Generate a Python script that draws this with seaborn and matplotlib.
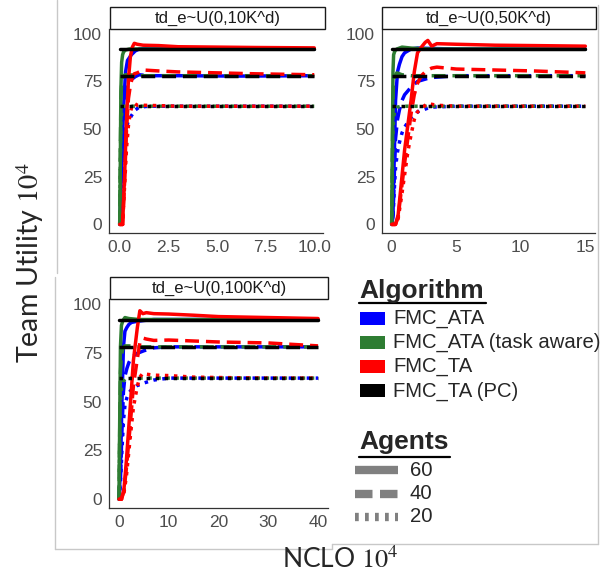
import numpy as np
import pandas as pd
import matplotlib
matplotlib.use("Agg")
import matplotlib.pyplot as plt
import seaborn as sns
from matplotlib.patches import Rectangle
from matplotlib.lines import Line2D

# legend / facet labels
algorithms = ["FMC_ATA", "FMC_ATA (task aware)", "FMC_TA", "FMC_TA (PC)"]
agents = ["60", "40", "20"]
panel_titles = ["td_e~U(0,10K^d)", "td_e~U(0,50K^d)", "td_e~U(0,100K^d)"]
y_ticks = [0, 25, 50, 75, 100]
x_ticks_p1 = [0, 2.5, 5, 7.5, 10]
x_ticks_p2 = [0, 5, 10, 15]
x_ticks_p3 = [0, 10, 20, 30, 40]

# ---- panel 1 : td_e~U(0,10K^d) ----
p1_ata_x = [0, 0.1, 0.2, 0.3, 0.4, 0.6, 0.8, 1.0, 1.5, 3, 6, 10]
p1_ata_60 = [0, 30, 62, 80, 86, 89, 91, 92, 92.5, 92.2, 92, 92]
p1_ata_40 = [0, 25, 50, 66, 72, 76, 77.5, 78.5, 78, 78, 77.8, 78]
p1_ata_20 = [0, 18, 36, 47, 53, 57, 60, 61.5, 62, 62, 62, 62]

p1_aware_x = [0, 0.03, 0.06, 0.1, 0.15, 0.2, 0.3, 0.5, 1, 3, 10]
p1_aware_60 = [0, 30, 70, 85, 89, 90.5, 91.5, 92, 92, 92, 92]
p1_aware_40 = [0, 35, 65, 74, 77, 78, 78.5, 78.5, 78, 78, 78]
p1_aware_20 = [0, 30, 52, 58, 61, 62, 62, 62, 62, 62, 62]

p1_ta_x = [0, 0.15, 0.25, 0.35, 0.45, 0.55, 0.65, 0.75, 0.9, 1.2, 2, 3, 5, 7, 10]
p1_ta_60 = [0, 0, 25, 55, 76, 88, 93, 95, 94.5, 94, 93.8, 93.2, 93, 92.8, 92.6]
p1_ta_40 = [0, 0, 22, 50, 66, 73, 77, 79, 79.5, 81, 80.5, 80, 79.5, 79, 78.5]
p1_ta_20 = [0, 0, 20, 40, 52, 59, 62.5, 63.5, 62.5, 62.5, 62.3, 62, 62, 62, 62]

p1_pc_x = [0, 10]
p1_pc_60 = [92, 92]
p1_pc_40 = [78, 78]
p1_pc_20 = [62, 62]

# ---- panel 2 : td_e~U(0,50K^d) ----
p2_ata_x = [0, 0.1, 0.2, 0.3, 0.45, 0.6, 0.8, 1.0, 1.5, 2.0, 3.0, 5, 10, 15]
p2_ata_60 = [0, 5, 35, 65, 80, 84, 88, 90, 92, 92.5, 92.3, 92, 92, 92]
p2_ata_40 = [0, 4, 25, 45, 55, 60, 65, 68, 72, 75, 77, 78, 78, 78]
p2_ata_20 = [0, 3, 18, 30, 38, 43, 48, 51, 56, 59, 61.5, 62, 62, 62]

p2_aware_x = [0, 0.05, 0.1, 0.15, 0.25, 0.4, 0.8, 1.5, 3, 8, 15]
p2_aware_60 = [0, 40, 80, 89, 91, 92, 93, 92.5, 92, 92, 92]
p2_aware_40 = [0, 35, 65, 75, 78, 79.5, 78.5, 78, 78, 78, 78]
p2_aware_20 = [0, 25, 48, 56, 60, 61.5, 62, 62, 62, 62, 62]

p2_ta_x = [0, 0.3, 0.5, 0.75, 1.0, 1.25, 1.5, 1.75, 2.0, 2.3, 2.6, 2.8, 3.1, 3.5, 5, 8, 11, 15]
p2_ta_60 = [0, 0, 5, 22, 39, 52, 65, 80, 90, 93, 95.5, 96.5, 93.5, 94.8, 94.5, 94, 93.8, 93.5]
p2_ta_40 = [0, 0, 4, 18, 32, 45, 58, 68, 74, 78, 80, 81, 82, 82.5, 81.5, 81, 80.5, 79.5]
p2_ta_20 = [0, 0, 3, 14, 26, 38, 47, 55, 59, 61, 62.5, 63.5, 63, 62.5, 62, 62, 62, 62]

p2_pc_x = [0, 15]
p2_pc_60 = [92, 92]
p2_pc_40 = [78, 78]
p2_pc_20 = [62, 62]

# ---- panel 3 : td_e~U(0,100K^d) ----
p3_ata_x = [0, 0.3, 0.6, 0.9, 1.2, 1.6, 2.0, 2.5, 3.5, 5, 7, 10, 20, 40]
p3_ata_60 = [0, 15, 50, 78, 86, 88, 89.5, 90.5, 91, 91.5, 92, 92, 92, 92]
p3_ata_40 = [0, 10, 35, 55, 63, 67, 70, 72.5, 74.5, 76, 77.5, 78, 78, 78]
p3_ata_20 = [0, 8, 25, 40, 48, 52, 54.5, 56, 58, 59.5, 61, 62, 62, 62]

p3_aware_x = [0, 0.15, 0.3, 0.5, 0.8, 1.2, 2, 4, 10, 20, 40]
p3_aware_60 = [0, 40, 78, 89, 91.5, 93, 92.5, 92, 92, 92, 92]
p3_aware_40 = [0, 35, 65, 74, 77, 78.5, 78.5, 78, 78, 78, 78]
p3_aware_20 = [0, 30, 50, 57, 60, 61.5, 62, 62, 62, 62, 62]

p3_ta_x = [0, 0.5, 1.0, 1.5, 2.2, 2.9, 3.7, 4.2, 4.8, 5.5, 7, 10, 15, 20, 30, 40]
p3_ta_60 = [0, 0, 5, 20, 45, 71, 88, 96.5, 95, 95.5, 95, 94.8, 94.2, 93.5, 93, 92.5]
p3_ta_40 = [0, 0, 4, 16, 36, 58, 72, 80, 82.5, 82, 81.3, 81.5, 81, 80.5, 80, 78.5]
p3_ta_20 = [0, 0, 3, 12, 30, 47, 58, 62.5, 64.5, 64, 63.5, 63.3, 62.5, 62.3, 62, 62]

p3_pc_x = [0, 40]
p3_pc_60 = [92, 92]
p3_pc_40 = [78, 78]
p3_pc_20 = [62, 62]

palette = {"FMC_ATA": "#0000FF", "FMC_ATA (task aware)": "#2E7D32",
           "FMC_TA": "#FF0000", "FMC_TA (PC)": "#000000"}
dash_map = {"60": "", "40": (4, 2), "20": (1, 1.6)}


def curve_frames(alg, x, y60, y40, y20):
    out = []
    for agent, ys in zip(agents, [y60, y40, y20]):
        out.append(pd.DataFrame({"NCLO": x, "Utility": ys,
                                 "Algorithm": alg, "Agents": agent}))
    return out


def panel_frame(ata, aware, ta, pc):
    parts = []
    for alg, c in zip(algorithms, [ata, aware, ta, pc]):
        parts += curve_frames(alg, *c)
    return pd.concat(parts, ignore_index=True)


df1 = panel_frame((p1_ata_x, p1_ata_60, p1_ata_40, p1_ata_20),
                  (p1_aware_x, p1_aware_60, p1_aware_40, p1_aware_20),
                  (p1_ta_x, p1_ta_60, p1_ta_40, p1_ta_20),
                  (p1_pc_x, p1_pc_60, p1_pc_40, p1_pc_20))
df2 = panel_frame((p2_ata_x, p2_ata_60, p2_ata_40, p2_ata_20),
                  (p2_aware_x, p2_aware_60, p2_aware_40, p2_aware_20),
                  (p2_ta_x, p2_ta_60, p2_ta_40, p2_ta_20),
                  (p2_pc_x, p2_pc_60, p2_pc_40, p2_pc_20))
df3 = panel_frame((p3_ata_x, p3_ata_60, p3_ata_40, p3_ata_20),
                  (p3_aware_x, p3_aware_60, p3_aware_40, p3_aware_20),
                  (p3_ta_x, p3_ta_60, p3_ta_40, p3_ta_20),
                  (p3_pc_x, p3_pc_60, p3_pc_40, p3_pc_20))

sns.set_style("white")
plt.rcParams['font.family'] = ['Liberation Sans', 'DejaVu Sans']
plt.rcParams['mathtext.fontset'] = 'stix'

W, H = 616, 585
fig = plt.figure(figsize=(W / 100, H / 100), dpi=100)


def fbox(x0, y0, x1, y1):
    # pixel box (top-left origin) -> figure fraction rect
    return [x0 / W, 1 - y1 / H, (x1 - x0) / W, (y1 - y0) / H]


panels = [
    (df1, fbox(109, 29, 323, 233), (-0.55, 10.45), x_ticks_p1, ["0.0", "2.5", "5.0", "7.5", "10.0"], (110, 7, 325, 29)),
    (df2, fbox(382, 29, 595, 233), (-0.75, 15.75), x_ticks_p2, ["0", "5", "10", "15"], (382, 7, 596, 29)),
    (df3, fbox(109, 299, 328, 508), (-2.0, 42.0), x_ticks_p3, ["0", "10", "20", "30", "40"], (110, 277, 328, 299)),
]

for (d, rect, xlim, xt, xtl, strip), title in zip(panels, panel_titles):
    ax = fig.add_axes(rect)
    sns.lineplot(data=d, x="NCLO", y="Utility", hue="Algorithm", style="Agents",
                 hue_order=algorithms, style_order=agents, palette=palette,
                 dashes=dash_map, linewidth=2.5, estimator=None, sort=False,
                 legend=False, ax=ax)
    ax.set_xlim(*xlim)
    ax.set_ylim(-4.5, 102.5)
    ax.set_xticks(xt)
    ax.set_xticklabels(xtl)
    ax.set_yticks(y_ticks)
    ax.set_xlabel("")
    ax.set_ylabel("")
    sns.despine(ax=ax)
    for s in ["left", "bottom"]:
        ax.spines[s].set_color("#333333")
        ax.spines[s].set_linewidth(0.9)
    ax.tick_params(axis="both", colors="#333333", labelcolor="#4D4D4D",
                   labelsize=12.5, length=3, width=0.8, pad=2)
    # facet strip
    sx0, sy0, sx1, sy1 = strip
    r = fbox(sx0, sy0, sx1, sy1)
    fig.add_artist(Rectangle((r[0], r[1]), r[2], r[3], transform=fig.transFigure,
                             facecolor="white", edgecolor="#1A1A1A", linewidth=1.0))
    fig.text(r[0] + r[2] / 2, r[1] + r[3] / 2, title, ha="center", va="center",
             fontsize=12, color="#1A1A1A")

# axis titles
fig.text(30 / W, 1 - 263 / H, "Team Utility $10^4$", rotation=90, ha="center",
         va="center", fontsize=20.5, family=["Lato", "DejaVu Sans"])
fig.text(340 / W, 1 - 560 / H, "NCLO $10^4$", ha="center", va="center",
         fontsize=19, family=["Lato", "DejaVu Sans"])

# legend: Algorithm
fig.text(359 / W, 1 - 291 / H, "Algorithm", fontsize=19, fontweight="bold",
         ha="left", va="center")
fig.add_artist(Line2D([359 / W, 486 / W], [1 - 303 / H, 1 - 303 / H],
                      transform=fig.transFigure, color="black", lw=1.6))
for i, alg in enumerate(algorithms):
    yc = 318 + i * 24.3
    r = fbox(360, yc - 6.5, 385, yc + 6.5)
    fig.add_artist(Rectangle((r[0], r[1]), r[2], r[3], transform=fig.transFigure,
                             facecolor=palette[alg], edgecolor="none"))
    fig.text(393 / W, 1 - yc / H, alg, fontsize=14.6, ha="left", va="center")

# legend: Agents
fig.text(359 / W, 1 - 442 / H, "Agents", fontsize=19, fontweight="bold",
         ha="left", va="center")
fig.add_artist(Line2D([359 / W, 450 / W], [1 - 457 / H, 1 - 457 / H],
                      transform=fig.transFigure, color="black", lw=1.6))
legend_dashes = {"60": (None, None), "40": (0, (2.1, 0.9)), "20": (0, (0.45, 0.75))}
for i, ag in enumerate(agents):
    yc = 470 + i * 23.5
    ln = Line2D([355 / W, 398 / W], [1 - yc / H, 1 - yc / H], transform=fig.transFigure,
                color="#808080", lw=6, solid_capstyle="butt", dash_capstyle="butt")
    if ag != "60":
        ln.set_linestyle(legend_dashes[ag])
    fig.add_artist(ln)
    fig.text(410 / W, 1 - yc / H, ag, fontsize=14.6, ha="left", va="center")

# faint frame lines of the pasted panels
frame_col = "#C8C8C8"
for xs, ys in [([598, 598], [5, 544]), ([332, 598], [544, 544]), ([332, 332], [544, 549]),
               ([55, 332], [549, 549]), ([57, 57], [0, 273]), ([55, 55], [277, 549])]:
    fig.add_artist(Line2D([x / W for x in xs], [1 - y / H for y in ys],
                          transform=fig.transFigure, color=frame_col, lw=1))

fig.savefig("out.png", dpi=100, facecolor="white")
